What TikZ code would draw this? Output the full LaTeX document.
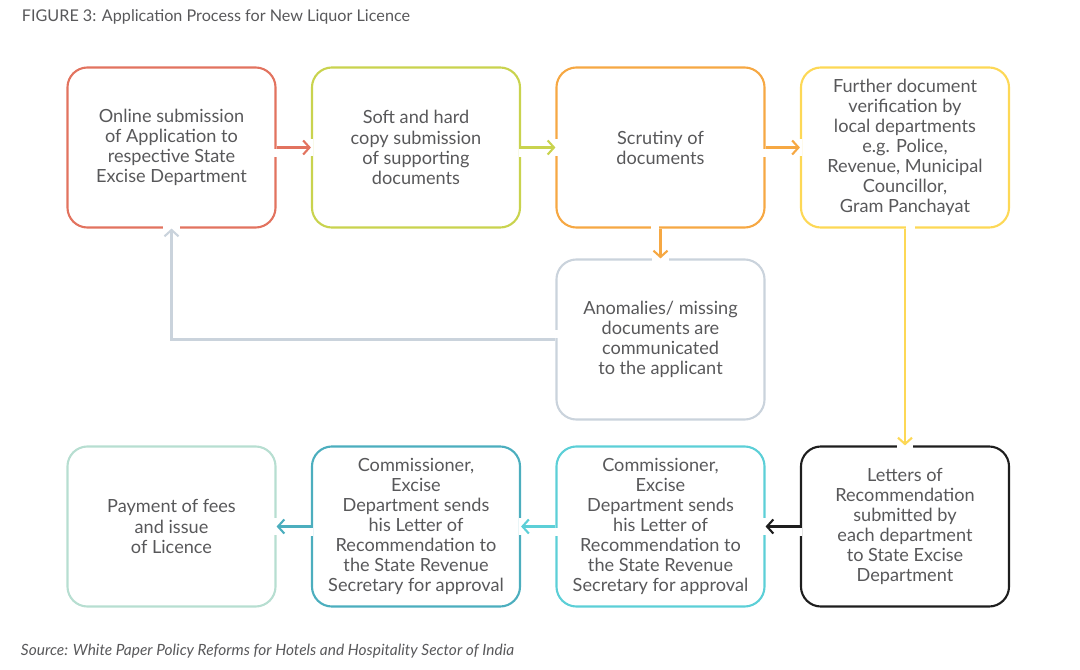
\documentclass[tikz,border=0pt]{standalone}
\usepackage{fontspec}
\setmainfont{Lato}
\usepackage{tikz}
\usetikzlibrary{arrows.meta,positioning}
\definecolor{boxred}{HTML}{E2735F}
\definecolor{boxlime}{HTML}{C9D34E}
\definecolor{boxorange}{HTML}{F6A843}
\definecolor{boxyellow}{HTML}{FDD856}
\definecolor{boxgrey}{HTML}{CAD3DC}
\definecolor{boxblack}{HTML}{1E1E1E}
\definecolor{boxcyan}{HTML}{5CCFD7}
\definecolor{boxteal}{HTML}{4CAEBE}
\definecolor{boxmint}{HTML}{B7DED1}
\definecolor{textgrey}{HTML}{58585A}
\tikzset{process node/.style={rectangle, draw=#1, line width=1.5pt,
    rounded corners=0.5cm, minimum width=5.2cm, minimum height=4cm,
    align=center, text=textgrey, font=\fontsize{12.9}{14.3}\selectfont}}
\tikzset{flow edge/.style={draw=#1, line width=1.5pt,
    -{Straight Barb[length=4.5pt,width=10pt,line width=1.5pt]}}}
\tikzset{gap/.style={draw=white, line width=3pt}}
\tikzset{caption/.style={anchor=west, text=textgrey, font=\fontsize{11.5}{13}\selectfont}}

\begin{document}
\begin{tikzpicture}[x=0.025cm, y=-0.025cm]
  \useasboundingbox (0,0) rectangle (1080,670);

  \node [caption] (title)  at (17, 17)  {FIGURE 3: Application Process for New Liquor Licence};
  \node [caption, font=\fontsize{11}{13}\selectfont\itshape] (source) at (16, 651) {Source: White Paper Policy Reforms for Hotels and Hospitality Sector of India};

  % first row
  \node [process node=boxred]    (online)   at (171.5, 147.5) {Online submission\\of Application to\\respective State\\Excise Department};
  \node [process node=boxlime]   (copies)   at (416,   147.5) {Soft and hard\\copy submission\\of supporting\\documents};
  \node [process node=boxorange] (scrutiny) at (660.5, 147.5) {Scrutiny of\\documents};
  \node [process node=boxyellow] (verify)   at (905,   147.5) {Further document\\verification by\\local departments\\e.g. Police,\\Revenue, Municipal\\Councillor,\\Gram Panchayat};

  % middle row
  \node [process node=boxgrey]   (anomaly)  at (660.5, 339.5) {Anomalies/ missing\\documents are\\communicated\\to the applicant};

  % last row
  \node [process node=boxblack]  (letters)  at (905,   526.5) {Letters of\\Recommendation\\submitted by\\each department\\to State Excise\\Department};
  \node [process node=boxcyan]   (commone)  at (660.5, 526.5) {Commissioner,\\Excise\\Department sends\\his Letter of\\Recommendation to\\the State Revenue\\Secretary for approval};
  \node [process node=boxteal]   (commtwo)  at (416,   526.5) {Commissioner,\\Excise\\Department sends\\his Letter of\\Recommendation to\\the State Revenue\\Secretary for approval};
  \node [process node=boxmint]   (payment)  at (171.5, 526.5) {Payment of fees\\and issue\\of Licence};

  % openings in the borders
  \draw [gap] ([yshift=-1pt]online.east)   -- ([yshift=-7pt]online.east);
  \draw [gap] ([yshift=6pt]copies.west)    -- ([yshift=-6pt]copies.west);
  \draw [gap] ([yshift=-1pt]copies.east)   -- ([yshift=-7pt]copies.east);
  \draw [gap] ([yshift=6pt]scrutiny.west)  -- ([yshift=-6pt]scrutiny.west);
  \draw [gap] ([yshift=-1pt]scrutiny.east) -- ([yshift=-7pt]scrutiny.east);
  \draw [gap] ([yshift=6pt]verify.west)    -- ([yshift=-6pt]verify.west);
  \draw [gap] ([xshift=-1pt]scrutiny.south) -- ([xshift=-7pt]scrutiny.south);
  \draw [gap] ([xshift=6pt]anomaly.north)  -- ([xshift=-6pt]anomaly.north);
  \draw [gap] ([yshift=1pt]anomaly.west)   -- ([yshift=7pt]anomaly.west);
  \draw [gap] ([xshift=6pt]online.south)   -- ([xshift=-6pt]online.south);
  \draw [gap] ([xshift=1pt]verify.south)   -- ([xshift=7pt]verify.south);
  \draw [gap] ([xshift=6pt]letters.north)  -- ([xshift=-6pt]letters.north);
  \draw [gap] ([yshift=-1pt]letters.west)  -- ([yshift=-7pt]letters.west);
  \draw [gap] ([yshift=6pt]commone.east)   -- ([yshift=-6pt]commone.east);
  \draw [gap] ([yshift=-1pt]commone.west)  -- ([yshift=-7pt]commone.west);
  \draw [gap] ([yshift=6pt]commtwo.east)   -- ([yshift=-6pt]commtwo.east);
  \draw [gap] ([yshift=-1pt]commtwo.west)  -- ([yshift=-7pt]commtwo.west);
  \draw [gap] ([yshift=6pt]payment.east)   -- ([yshift=-6pt]payment.east);

  \draw [flow edge=boxred]    (online)   -- (copies);
  \draw [flow edge=boxlime]   (copies)   -- (scrutiny);
  \draw [flow edge=boxorange] (scrutiny) -- (verify);
  \draw [flow edge=boxorange] (scrutiny) -- (anomaly);
  \draw [flow edge=boxgrey]   (anomaly.west) -| (online.south);
  \draw [flow edge=boxyellow] (verify)   -- (letters);
  \draw [flow edge=boxblack]  (letters)  -- (commone);
  \draw [flow edge=boxcyan]   (commone)  -- (commtwo);
  \draw [flow edge=boxteal]   (commtwo)  -- (payment);
\end{tikzpicture}
\end{document}
